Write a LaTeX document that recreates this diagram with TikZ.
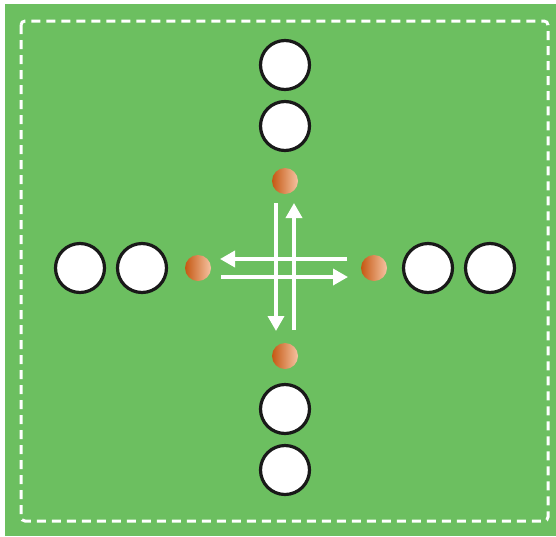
\documentclass[tikz,border=0pt]{standalone}
\usetikzlibrary{arrows.meta}
\definecolor{bggreen}{RGB}{108,191,96}
\definecolor{ballorange}{RGB}{232,104,22}
\tikzset{
  x=1pt,y=-1pt,
  player/.style={circle,draw=black!90,line width=3.2pt,fill=white,minimum size=49pt,inner sep=0pt},
  cone/.style={circle,minimum size=26pt,inner sep=0pt,shading=axis,left color=ballorange!85!black,middle color=ballorange,right color=white!60!ballorange,shading angle=90},
  move/.style={draw=white,line width=3.5pt,-{Triangle[length=15pt,width=16pt]}},
}
\begin{document}
\begin{tikzpicture}
\useasboundingbox (0,0) rectangle (556,536);
\fill[white] (0,0) rectangle (556,536);
\fill[bggreen] (5,4) rectangle (556,536);
\draw[white,line width=3pt,dash pattern=on 9pt off 6pt,rounded corners=4pt] (21,21) rectangle (548,521);
% players
\node[player] (t1) at (285,65) {};
\node[player] (t2) at (285,126) {};
\node[player] (b1) at (285,409) {};
\node[player] (b2) at (285,470) {};
\node[player] (l1) at (80,268) {};
\node[player] (l2) at (142,268) {};
\node[player] (r1) at (428,268) {};
\node[player] (r2) at (490,268) {};
% cones
\node[cone] (ct) at (285,181) {};
\node[cone] (cb) at (285,356) {};
\node[cone] (cl) at (198,268) {};
\node[cone] (cr) at (374,268) {};
% arrows
\coordinate (v1s) at (276,203);
\coordinate (v1e) at (276,331);
\coordinate (v2s) at (294,330);
\coordinate (v2e) at (294,203);
\coordinate (h1s) at (347,259);
\coordinate (h1e) at (220,259);
\coordinate (h2s) at (221,277);
\coordinate (h2e) at (348,277);
\draw[move] (v1s) -- (v1e);
\draw[move] (v2s) -- (v2e);
\draw[move] (h1s) -- (h1e);
\draw[move] (h2s) -- (h2e);
\end{tikzpicture}
\end{document}
